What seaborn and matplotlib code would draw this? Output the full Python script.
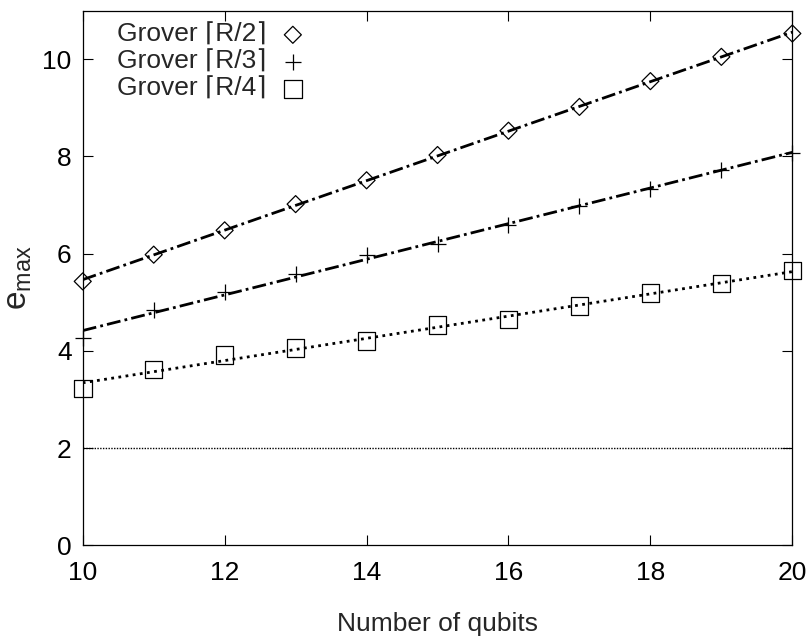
# emax vs number of qubits, Grover variants
import numpy as np
import matplotlib
matplotlib.use("Agg")
import matplotlib.pyplot as plt
import seaborn as sns

qubits = [10, 11, 12, 13, 14, 15, 16, 17, 18, 19, 20]
grover_r2 = [5.43, 5.98, 6.48, 7.02, 7.51, 8.03, 8.53, 9.02, 9.55, 10.05, 10.53]
grover_r3 = [4.27, 4.84, 5.21, 5.58, 5.97, 6.19, 6.60, 6.98, 7.34, 7.72, 8.07]
grover_r4 = [3.23, 3.62, 3.92, 4.06, 4.20, 4.53, 4.65, 4.92, 5.19, 5.39, 5.65]
baseline = 2

labels = ["Grover \u2308R/2\u2309", "Grover \u2308R/3\u2309", "Grover \u2308R/4\u2309"]

sns.set_style("ticks")
plt.rcParams['font.family'] = ['Liberation Sans', 'DejaVu Sans']
plt.rcParams['mathtext.fontset'] = 'custom'
plt.rcParams['mathtext.rm'] = 'Liberation Sans'
plt.rcParams['mathtext.it'] = 'Liberation Sans'

fig = plt.figure(figsize=(8.08, 6.39), dpi=100)
ax = fig.add_axes([0.1024, 0.1466, 0.8782, 0.8367])

series = [grover_r2, grover_r3, grover_r4]
markers = ["D", "+", "s"]
sizes = [75, 140, 160]
fit_styles = [(0, (5, 1.5, 1, 1.5)), (0, (5, 1.5, 1, 1.5)), (0, (1, 1.6))]

for ys, mk, sz, ls, lab in zip(series, markers, sizes, fit_styles, labels):
    sns.regplot(x=qubits, y=ys, ci=None, scatter=False, ax=ax, truncate=True,
                line_kws=dict(color="black", lw=2.0, ls=ls))
    if mk == "+":
        sns.scatterplot(x=qubits, y=ys, marker=mk, s=sz, color="black",
                        linewidth=0.9, ax=ax, label=lab, zorder=3, clip_on=False)
    else:
        sns.scatterplot(x=qubits, y=ys, marker=mk, s=sz, facecolor="none",
                        edgecolor="black", linewidth=0.9, ax=ax, label=lab,
                        zorder=3, clip_on=False)

ax.axhline(baseline, color="black", lw=1.0, ls=(0, (1, 1)))

ax.set_xlim(10, 20)
ax.set_ylim(0, 11)
ax.set_xticks([10, 12, 14, 16, 18, 20])
ax.set_yticks([0, 2, 4, 6, 8, 10])
ax.tick_params(direction="in", length=7, width=0.8, labelsize=19,
               top=True, right=True, colors="black")
ax.tick_params(axis="x", pad=11)
ax.tick_params(axis="y", pad=8)
for sp in ax.spines.values():
    sp.set_visible(True)
    sp.set_linewidth(0.9)
    sp.set_color("black")

ax.set_xlabel("Number of qubits", fontsize=19, labelpad=20)
ax.set_ylabel(r"e$_{\mathrm{max}}$", fontsize=24, labelpad=6)

leg = ax.legend(loc="upper left", bbox_to_anchor=(0.022, 1.012), frameon=False,
                markerfirst=False, fontsize=19, handletextpad=0.4,
                handlelength=1.2, labelspacing=0.12, borderaxespad=0.3)

fig.savefig("out.png", dpi=100)
